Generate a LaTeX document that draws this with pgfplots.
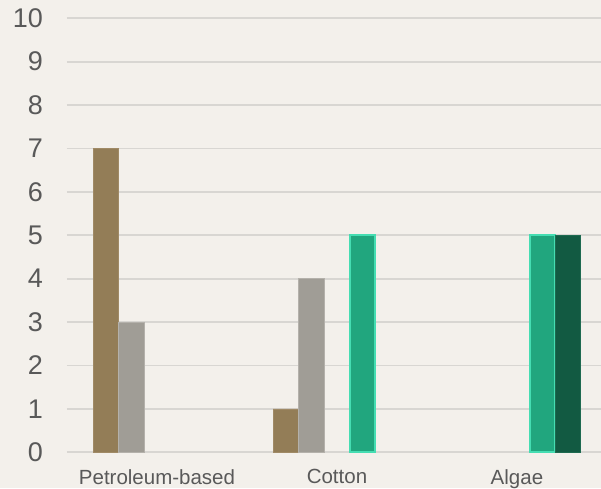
\documentclass[border=0pt]{standalone}
\usepackage{pgfplots}
\pgfplotsset{compat=1.18}
\usepackage{fontspec}
\setmainfont{Liberation Sans}

\definecolor{bgcol}{HTML}{F3F0EB}
\definecolor{gridcol}{HTML}{D8D6D2}
\definecolor{textcol}{HTML}{595959}
\definecolor{brownbar}{HTML}{937D57}
\definecolor{browndraw}{HTML}{A08A66}
\definecolor{graybar}{HTML}{A09D96}
\definecolor{graydraw}{HTML}{B4B1AB}
\definecolor{tealbar}{HTML}{21A67E}
\definecolor{tealdraw}{HTML}{45DDB2}
\definecolor{darkbar}{HTML}{125A42}
\definecolor{darkdraw}{HTML}{1E6A50}

\begin{document}
\begin{tikzpicture}
% page background
\fill[bgcol] (-67pt,-35.7pt) rectangle (534pt,452.3pt);
\begin{axis}[
  at={(0,0)}, anchor=south west,
  scale only axis,
  width=534pt, height=434pt,
  xmin=-0.5, xmax=2.467,
  ymin=0, ymax=10,
  ytick={0,1,...,10},
  xtick={0,1,2},
  xticklabels={Petroleum-based,Cotton,Algae},
  axis line style={draw=none},
  tick style={draw=none},
  ymajorgrids,
  grid style={gridcol, line width=1.8pt},
  /pgf/number format/assume math mode=true,
  yticklabel style={font=\fontsize{27}{30}\selectfont, text=textcol, anchor=east, inner sep=0pt, xshift=-24pt},
  xticklabel style={font=\fontsize{20.5}{24}\selectfont, text=textcol, anchor=north, inner sep=0pt, yshift=-12.5pt},
  ybar,
  bar width=25.5pt,
  clip=false,
]
% brown series
\addplot[fill=brownbar, draw=browndraw, line width=0.6pt, bar shift=-51pt]
  coordinates {(0,7) (1,1)};
% gray series
\addplot[fill=graybar, draw=graydraw, line width=0.6pt, bar shift=-25.5pt]
  coordinates {(0,3) (1,4)};
% teal series
\addplot[fill=tealbar, draw=tealdraw, line width=1.8pt, bar shift=25.5pt]
  coordinates {(1,5) (2,5)};
% dark green series
\addplot[fill=darkbar, draw=darkdraw, line width=0.6pt, bar shift=51pt]
  coordinates {(2,5)};
\end{axis}
\pgfresetboundingbox
\path (-67pt,-35.7pt) rectangle (534pt,452.3pt);
\end{tikzpicture}
\end{document}
